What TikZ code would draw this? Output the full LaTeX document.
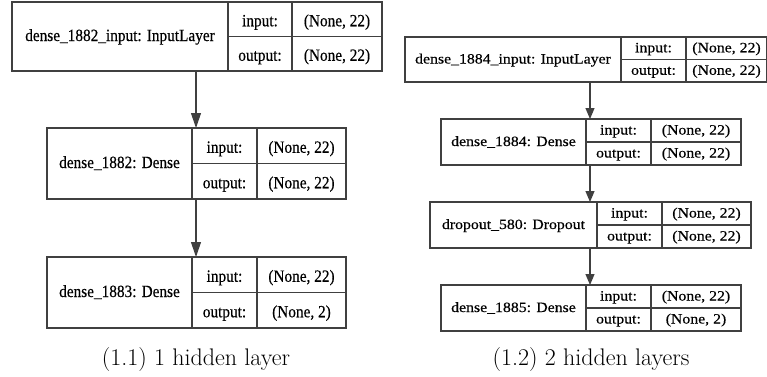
\documentclass[tikz,border=0pt]{standalone}
\usepackage{fontspec}
\newfontfamily\recfont[FakeBold=0.4]{Liberation Serif}
\usetikzlibrary{arrows.meta}

\tikzset{
  recbox/.style={draw=black!75, line width=1.1pt, inner sep=0pt, outer sep=0pt},
  recline/.style={draw=black!75, line width=1.1pt},
  rectext/.style={inner sep=0pt, outer sep=0pt, anchor=base, text=black},
  flowL/.style={draw=black!75, line width=1.1pt, -{Triangle[length=15pt, width=10pt]}},
  flowR/.style={draw=black!75, line width=1.1pt, -{Triangle[length=11pt, width=9pt]}},
  captext/.style={inner sep=0pt, outer sep=0pt, anchor=base, font=\fontsize{24}{28}\selectfont},
}

% text of the record cells: size and vertical stretch set per diagram
\def\txtsize{15.3}
\def\txtys{1.12}
\def\labofs{4.5}
\def\cellofs{7}
\newcommand\rtx[1]{\scalebox{1}[\txtys]{\recfont\fontsize{\txtsize}{\txtsize}\selectfont #1}}

% record box: name, x0, x1, x2, x3, ytop, ybottom, layer label, output shape
\newcommand\record[9]{%
  \node[recbox, minimum width={(#5-#2)*1pt}, minimum height={(#7-#6)*1pt}]
    (#1) at ({(#2+#5)/2},{(#6+#7)/2}) {};
  \draw[recline] (#3,#6) -- (#3,#7);
  \draw[recline] (#4,#6) -- (#4,#7);
  \draw[recline] (#3,{(#6+#7)/2}) -- (#5,{(#6+#7)/2});
  \node[rectext] (#1-name) at ({(#2+#3)/2},{(#6+#7)/2+\labofs}) {\rtx{#8}};
  \node[rectext] (#1-inl)  at ({(#3+#4)/2},{(3*#6+#7)/4+\cellofs}) {\rtx{input:}};
  \node[rectext] (#1-inv)  at ({(#4+#5)/2},{(3*#6+#7)/4+\cellofs}) {\rtx{(None, 22)}};
  \node[rectext] (#1-outl) at ({(#3+#4)/2},{(#6+3*#7)/4+\cellofs}) {\rtx{output:}};
  \node[rectext] (#1-outv) at ({(#4+#5)/2},{(#6+3*#7)/4+\cellofs}) {\rtx{#9}};
}

\begin{document}
\begin{tikzpicture}[x=1pt, y=-1pt]
\useasboundingbox (0,0) rectangle (767,376);

% ---- one hidden layer ----
\def\txtsize{15.3}\def\txtys{1.12}\def\labofs{4.5}\def\cellofs{7}
\record{L1}{12}{228}{292}{382}{2}{71}{dense\_1882\_input: InputLayer}{(None, 22)}
\record{L2}{47}{192}{257}{346}{128}{199}{dense\_1882: Dense}{(None, 22)}
\record{L3}{47}{192}{257}{346}{257}{328}{dense\_1883: Dense}{(None, 2)}
\coordinate (aL) at (196,0);
\draw[flowL] (L1.south -| aL) -- (L2.north -| aL);
\draw[flowL] (L2.south -| aL) -- (L3.north -| aL);
\node[captext] (capL) at (196,365) {(1.1) 1 hidden layer};

% ---- two hidden layers ----
\def\txtsize{15.8}\def\txtys{0.9}\def\labofs{4}\def\cellofs{4}
\record{R1}{405}{621}{686}{767}{37}{82}{dense\_1884\_input: InputLayer}{(None, 22)}
\record{R2}{441}{586}{651}{741}{119}{165}{dense\_1884: Dense}{(None, 22)}
\record{R3}{430}{597}{662}{751}{202}{248}{dropout\_580: Dropout}{(None, 22)}
\record{R4}{441}{586}{651}{741}{285}{331}{dense\_1885: Dense}{(None, 2)}
\coordinate (aR) at (590,0);
\draw[flowR] (R1.south -| aR) -- (R2.north -| aR);
\draw[flowR] (R2.south -| aR) -- (R3.north -| aR);
\draw[flowR] (R3.south -| aR) -- (R4.north -| aR);
\node[captext] (capR) at (591,365) {(1.2) 2 hidden layers};
\end{tikzpicture}
\end{document}
